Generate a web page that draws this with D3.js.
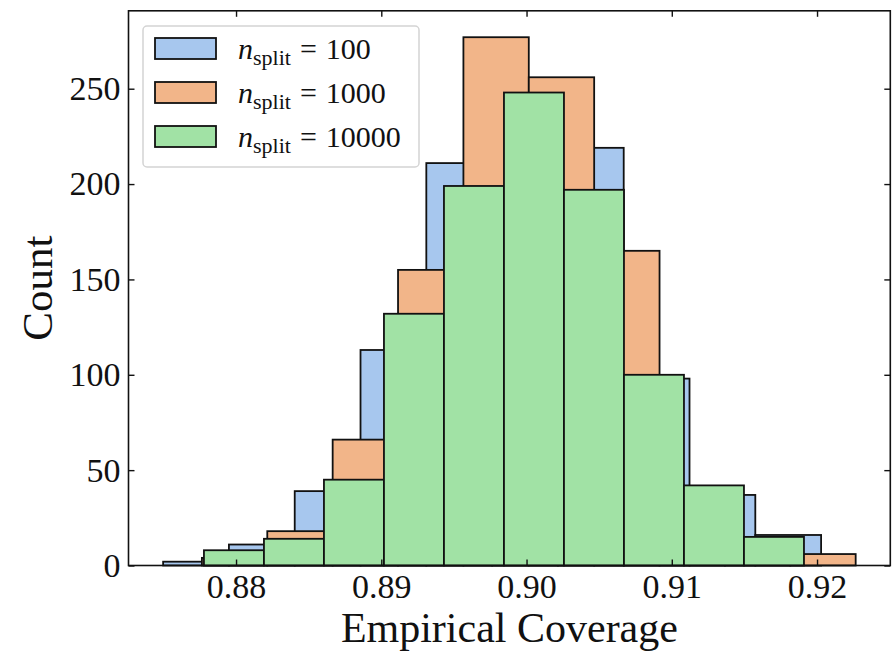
<!DOCTYPE html>
<html>
<head>
<meta charset="utf-8">
<script src="https://cdn.jsdelivr.net/npm/d3@7"></script>
<style>
  body { margin: 0; background: #fff; }
  text { font-family: "Liberation Serif", "DejaVu Serif", serif; fill: #111; }
</style>
</head>
<body>
<div id="chart"></div>
<script>
// histogram counts, 10 equal bins per series between its own min and max
var seriesNames = ['100', '1000', '10000'];
var binLo = [0.87498, 0.87765, 0.87779];
var binHi = [0.92028, 0.92266, 0.91910];
var counts100 = [2, 11, 39, 113, 211, 254, 219, 98, 37, 16];
var counts1000 = [4, 18, 66, 155, 277, 256, 165, 40, 13, 6];
var counts10000 = [8, 14, 45, 132, 199, 248, 197, 100, 42, 15];
var xTicks = [0.88, 0.89, 0.90, 0.91, 0.92];
var yTicks = [0, 50, 100, 150, 200, 250];
var colors = ['#a7c7ee', '#f2b589', '#a1e2a5'];

var allCounts = [counts100, counts1000, counts10000];

// set the dimensions and margins of the graph
var margin = { top: 10.8, right: 5.7, bottom: 86.5, left: 128.5 };
var width = 896 - margin.left - margin.right;
var height = 652 - margin.top - margin.bottom;

var svg = d3.select('#chart').append('svg')
  .attr('width', 896)
  .attr('height', 652)
  .append('g')
  .attr('transform', 'translate(' + margin.left + ',' + margin.top + ')');

// matplotlib style 5% margins on x, 5% headroom on y
var xmin = d3.min(binLo), xmax = d3.max(binHi);
var pad = (xmax - xmin) * 0.05;
var x = d3.scaleLinear().domain([xmin - pad, xmax + pad]).range([0, width]);
var ymax = d3.max(allCounts, function (c) { return d3.max(c); }) * 1.05;
var y = d3.scaleLinear().domain([0, ymax]).range([height, 0]);

// bars, one series after the other so later ones sit on top
allCounts.forEach(function (counts, s) {
  var step = (binHi[s] - binLo[s]) / counts.length;
  var bins = counts.map(function (c, i) {
    return { x0: binLo[s] + i * step, x1: binLo[s] + (i + 1) * step, n: c };
  });
  svg.append('g')
    .selectAll('rect')
    .data(bins)
    .enter().append('rect')
    .attr('x', function (d) { return x(d.x0); })
    .attr('width', function (d) { return x(d.x1) - x(d.x0); })
    .attr('y', function (d) { return y(d.n); })
    .attr('height', function (d) { return y(0) - y(d.n); })
    .style('fill', colors[s])
    .style('stroke', '#111')
    .style('stroke-width', 1.8);
});

// axes with inward ticks on all four sides
var fmt = d3.format('.2f');
svg.append('g')
  .attr('transform', 'translate(0,' + height + ')')
  .call(d3.axisBottom(x).tickValues(xTicks).tickFormat(fmt).tickSize(-6).tickPadding(8));
svg.append('g')
  .call(d3.axisLeft(y).tickValues(yTicks).tickSize(-6).tickPadding(8));
svg.append('g')
  .call(d3.axisTop(x).tickValues(xTicks).tickFormat('').tickSize(-6));
svg.append('g')
  .attr('transform', 'translate(' + width + ',0)')
  .call(d3.axisRight(y).tickValues(yTicks).tickFormat('').tickSize(-6));

svg.selectAll('.domain').remove();
svg.selectAll('.tick line').style('stroke', '#111').style('stroke-width', 1.4);
svg.selectAll('.tick text')
  .style('font-family', '"Liberation Serif", serif')
  .style('font-size', '34px')
  .style('fill', '#111');

// frame
svg.append('rect')
  .attr('width', width)
  .attr('height', height)
  .style('fill', 'none')
  .style('stroke', '#111')
  .style('stroke-width', 1.6);

// axis labels
svg.append('text')
  .attr('x', width / 2)
  .attr('y', height + 77)
  .style('text-anchor', 'middle')
  .style('font-size', '42px')
  .text('Empirical Coverage');

svg.append('text')
  .attr('transform', 'rotate(-90)')
  .attr('x', -height / 2)
  .attr('y', 52 - margin.left)
  .style('text-anchor', 'middle')
  .style('font-size', '43px')
  .text('Count');

// legend
var legend = svg.append('g')
  .attr('transform', 'translate(' + (143 - margin.left) + ',' + (26 - margin.top) + ')');

legend.append('rect')
  .attr('width', 276)
  .attr('height', 141)
  .attr('rx', 4)
  .style('fill', '#fff')
  .style('fill-opacity', 0.85)
  .style('stroke', '#d4d4d4')
  .style('stroke-width', 1.5);

seriesNames.forEach(function (name, i) {
  var row = legend.append('g')
    .attr('transform', 'translate(0,' + (23 + i * 44) + ')');
  row.append('rect')
    .attr('x', 12)
    .attr('y', -11)
    .attr('width', 61)
    .attr('height', 21)
    .style('fill', colors[i])
    .style('stroke', '#111')
    .style('stroke-width', 1.8);
  var t = row.append('text')
    .attr('x', 95)
    .attr('y', 10)
    .style('font-size', '30px');
  t.append('tspan').style('font-style', 'italic').text('n');
  t.append('tspan').attr('dy', 6).style('font-size', '22px').text('split');
  t.append('tspan').attr('dy', -6).attr('dx', 9).text('=');
  t.append('tspan').attr('dx', 9).text(name);
});
</script>
</body>
</html>
